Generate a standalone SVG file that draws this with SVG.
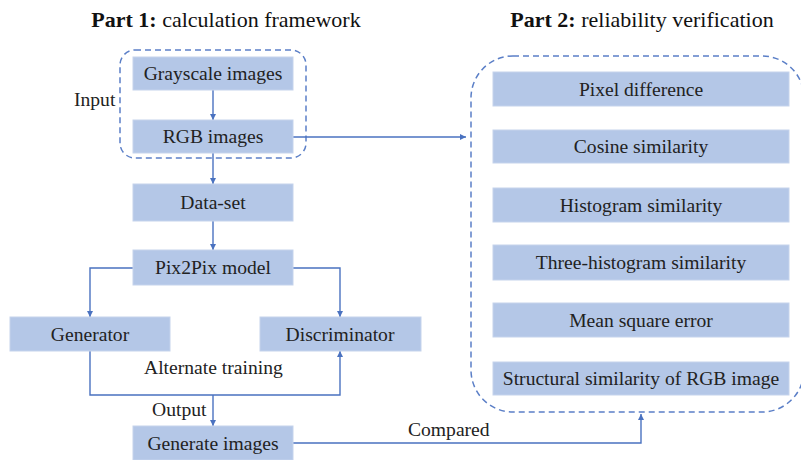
<svg xmlns="http://www.w3.org/2000/svg" width="801" height="460" viewBox="0 0 801 460">
  <style>
    .box { fill: #b4c7e7; stroke: #c5d3ec; stroke-width: 1; }
    .lbl { font-family: 'Liberation Serif', 'Times New Roman', serif; font-size: 19.6px; fill: #222; text-anchor: middle; }
    .note { font-family: 'Liberation Serif', 'Times New Roman', serif; font-size: 19.6px; fill: #222; }
    .title { font-family: 'Liberation Serif', 'Times New Roman', serif; font-size: 22px; fill: #111; text-anchor: middle; }
    .dash { fill: none; stroke: #5b7fc7; stroke-width: 1.5; stroke-dasharray: 6 4; }
    .wire { fill: none; stroke: #4a72c0; stroke-width: 1.4; }
  </style>
  <defs>
    <marker id="arr" viewBox="0 0 10 10" refX="10" refY="5" markerWidth="6" markerHeight="6" orient="auto" markerUnits="userSpaceOnUse">
      <path d="M0,0 L10,5 L0,10 z" fill="#4a72c0"/>
    </marker>
  </defs>
  <rect width="801" height="460" fill="#ffffff"/>

  <!-- titles -->
  <text class="title" x="226" y="27"><tspan font-weight="bold">Part 1:</tspan> calculation framework</text>
  <text class="title" x="642" y="27"><tspan font-weight="bold">Part 2:</tspan> reliability verification</text>

  <!-- dashed groupings -->
  <rect id="input-group" class="dash" x="120" y="50" width="186" height="108" rx="15"/>
  <rect id="metrics-group" class="dash" x="471" y="56" width="333" height="356" rx="42"/>

  <!-- connectors -->
  <g id="connectors">
    <path class="wire" d="M213,90 V120" marker-end="url(#arr)"/>
    <path class="wire" d="M293,137 H466" marker-end="url(#arr)"/>
    <path class="wire" d="M213,153 V184" marker-end="url(#arr)"/>
    <path class="wire" d="M213,221 V250" marker-end="url(#arr)"/>
    <path class="wire" d="M133,268 H90 V317" marker-end="url(#arr)"/>
    <path class="wire" d="M293,268 H340 V317" marker-end="url(#arr)"/>
    <path class="wire" d="M90,351 V395 H340 V351" marker-end="url(#arr)"/>
    <path class="wire" d="M213,395 V426" marker-end="url(#arr)"/>
    <path class="wire" d="M293,443 H641 V414" marker-end="url(#arr)"/>
  </g>

  <!-- Part 1 nodes -->
  <g id="grayscale"><rect class="box" x="133" y="57" width="160" height="33"/><text class="lbl" x="213" y="80">Grayscale images</text></g>
  <g id="rgb"><rect class="box" x="133" y="120" width="160" height="33"/><text class="lbl" x="213" y="143">RGB images</text></g>
  <g id="dataset"><rect class="box" x="133" y="184" width="160" height="37"/><text class="lbl" x="213" y="209">Data-set</text></g>
  <g id="pix2pix"><rect class="box" x="133" y="250" width="160" height="35"/><text class="lbl" x="213" y="274">Pix2Pix model</text></g>
  <g id="generator"><rect class="box" x="10" y="317" width="160" height="34"/><text class="lbl" x="90" y="340.5">Generator</text></g>
  <g id="discriminator"><rect class="box" x="260" y="317" width="161" height="34"/><text class="lbl" x="340" y="340.5">Discriminator</text></g>
  <g id="generate"><rect class="box" x="133" y="426" width="160" height="34"/><text class="lbl" x="213" y="449.5">Generate images</text></g>

  <!-- Part 2 nodes -->
  <g id="pixel-diff"><rect class="box" x="493" y="72" width="296" height="34"/><text class="lbl" x="641" y="95.5">Pixel difference</text></g>
  <g id="cosine"><rect class="box" x="493" y="130" width="296" height="33"/><text class="lbl" x="641" y="153">Cosine similarity</text></g>
  <g id="histogram"><rect class="box" x="493" y="188" width="296" height="34"/><text class="lbl" x="641" y="211.5">Histogram similarity</text></g>
  <g id="three-histogram"><rect class="box" x="493" y="245" width="296" height="35"/><text class="lbl" x="641" y="269">Three-histogram similarity</text></g>
  <g id="mse"><rect class="box" x="493" y="303" width="296" height="34"/><text class="lbl" x="641" y="326.5">Mean square error</text></g>
  <g id="ssim"><rect class="box" x="493" y="362" width="296" height="33"/><text class="lbl" x="641" y="385">Structural similarity of RGB image</text></g>

  <!-- free labels -->
  <text class="note" x="74" y="106">Input</text>
  <text class="note" x="144" y="374">Alternate training</text>
  <text class="note" x="152" y="416">Output</text>
  <text class="note" x="408" y="436">Compared</text>
</svg>
